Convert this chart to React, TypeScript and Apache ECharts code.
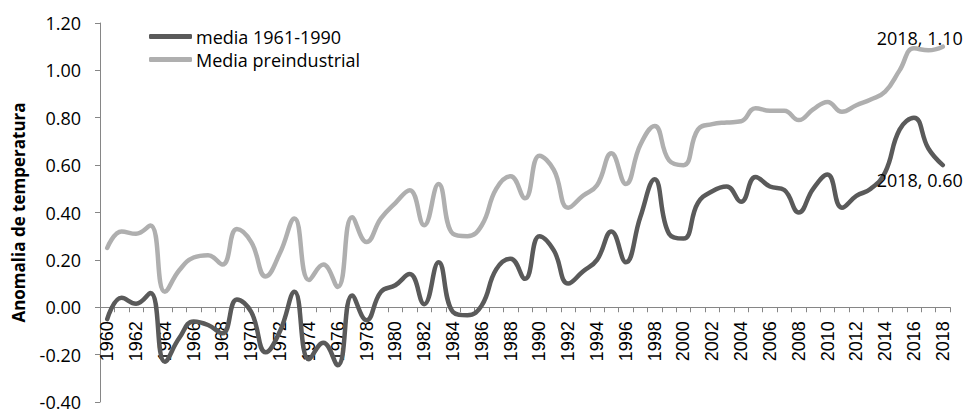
import React, { useEffect, useRef } from "react";
import * as echarts from "echarts";

const years: string[] = [];
for (let y = 1960; y <= 2018; y++) years.push(String(y));

const media1961_1990 = [
  -0.05, 0.04, 0.015, 0.06, -0.23, -0.13, -0.06, -0.075, -0.11, 0.033,
  -0.02, -0.19, -0.1, 0.065, -0.22, -0.15, -0.245, 0.05, -0.055, 0.065,
  0.093, 0.14, 0.013, 0.19, -0.02, -0.034, 0.008, 0.16, 0.205, 0.12,
  0.3, 0.24, 0.1, 0.15, 0.2, 0.32, 0.19, 0.38, 0.54, 0.31,
  0.29, 0.44, 0.49, 0.51, 0.445, 0.55, 0.51, 0.495, 0.4, 0.5,
  0.56, 0.42, 0.47, 0.5, 0.57, 0.75, 0.8, 0.67, 0.6,
];

const mediaPreindustrial = [
  0.25, 0.32, 0.31, 0.345, 0.065, 0.156, 0.21, 0.22, 0.18, 0.33,
  0.275, 0.13, 0.23, 0.375, 0.115, 0.18, 0.086, 0.38, 0.275, 0.375,
  0.44, 0.494, 0.346, 0.52, 0.31, 0.3, 0.346, 0.5, 0.553, 0.46,
  0.64, 0.58, 0.42, 0.47, 0.515, 0.65, 0.52, 0.685, 0.765, 0.62,
  0.6, 0.75, 0.773, 0.78, 0.785, 0.84, 0.83, 0.83, 0.79, 0.835,
  0.867, 0.825, 0.853, 0.877, 0.91, 1.0, 1.093, 1.085, 1.1,
];

const seriesNames = ["media 1961-1990", "Media preindustrial"];
const yTicks = { min: -0.4, max: 1.2, interval: 0.2 };

const DARK = "#5a5a5a";
const LIGHT = "#afafaf";
const FONT = "Open Sans";

const GRID = { left: 100, right: 14, top: 23, bottom: 7 };
const HEIGHT = 409;

export default function App() {
  const ref = useRef<HTMLDivElement>(null);
  useEffect(() => {
    if (!ref.current) return;
    const chart = echarts.init(ref.current, undefined, { renderer: "svg" });
    const lastLabel = (p: any) =>
      `${years[years.length - 1]}, ${Number(p.value).toFixed(2)}`;
    // place the category axis where the value axis crosses zero
    const plotH = HEIGHT - GRID.top - GRID.bottom;
    const zeroOffset =
      -((0 - yTicks.min) / (yTicks.max - yTicks.min)) * plotH;
    chart.setOption({
      animation: false,
      backgroundColor: "#ffffff",
      grid: {
        ...GRID,
        containLabel: false,
        outerBoundsMode: "none",
      },
      legend: {
        left: 149,
        top: 25,
        orient: "vertical",
        padding: 0,
        itemGap: 0,
        itemWidth: 43,
        itemHeight: 5,
        icon: "roundRect",
        data: seriesNames,
        textStyle: {
          fontFamily: FONT,
          fontSize: 18,
          color: "#000",
          lineHeight: 23,
          padding: [0, 0, 0, -1],
        },
      },
      xAxis: {
        type: "category",
        data: years,
        boundaryGap: true,
        position: "bottom",
        offset: zeroOffset,
        axisLine: {
          onZero: false,
          lineStyle: { color: "#868686", width: 1 },
        },
        axisTick: {
          show: true,
          interval: 0,
          length: 5,
          lineStyle: { color: "#868686" },
        },
        axisLabel: {
          interval: 1,
          rotate: 90,
          margin: 14,
          fontFamily: "Liberation Sans",
          fontSize: 18,
          color: "#000",
        },
        splitLine: { show: false },
      },
      yAxis: {
        type: "value",
        min: yTicks.min,
        max: yTicks.max,
        interval: yTicks.interval,
        name: "Anomalia de temperatura",
        nameLocation: "middle",
        nameGap: 73,
        nameTextStyle: {
          fontFamily: FONT,
          fontSize: 17,
          fontWeight: "bold",
          color: "#000",
        },
        axisLine: { show: true, lineStyle: { color: "#868686" } },
        axisTick: { show: true, length: 5, lineStyle: { color: "#868686" } },
        axisLabel: {
          margin: 19,
          fontFamily: FONT,
          fontSize: 18,
          color: "#000",
          formatter: (v: number) => v.toFixed(2),
        },
        splitLine: { show: false },
      },
      series: [
        {
          name: seriesNames[0],
          type: "line",
          data: media1961_1990,
          smooth: 0.45,
          showSymbol: false,
          symbol: "none",
          color: DARK,
          lineStyle: { width: 4.5, color: DARK, cap: "round", join: "round" },
          z: 3,
          endLabel: {
            show: true,
            formatter: lastLabel,
            fontFamily: FONT,
            fontSize: 18,
            color: "#000",
            align: "right",
            verticalAlign: "top",
            distance: 20,
            offset: [0, 6],
          },
        },
        {
          name: seriesNames[1],
          type: "line",
          data: mediaPreindustrial,
          smooth: 0.45,
          showSymbol: false,
          symbol: "none",
          color: LIGHT,
          lineStyle: { width: 4.5, color: LIGHT, cap: "round", join: "round" },
          z: 2,
          endLabel: {
            show: true,
            formatter: lastLabel,
            fontFamily: FONT,
            fontSize: 18,
            color: "#000",
            align: "right",
            verticalAlign: "bottom",
            distance: 20,
            offset: [0, 0],
          },
        },
      ],
    });
    return () => chart.dispose();
  }, []);
  return (
    <div
      ref={ref}
      style={{ position: "fixed", left: 0, top: 0, width: 964, height: HEIGHT }}
    />
  );
}
